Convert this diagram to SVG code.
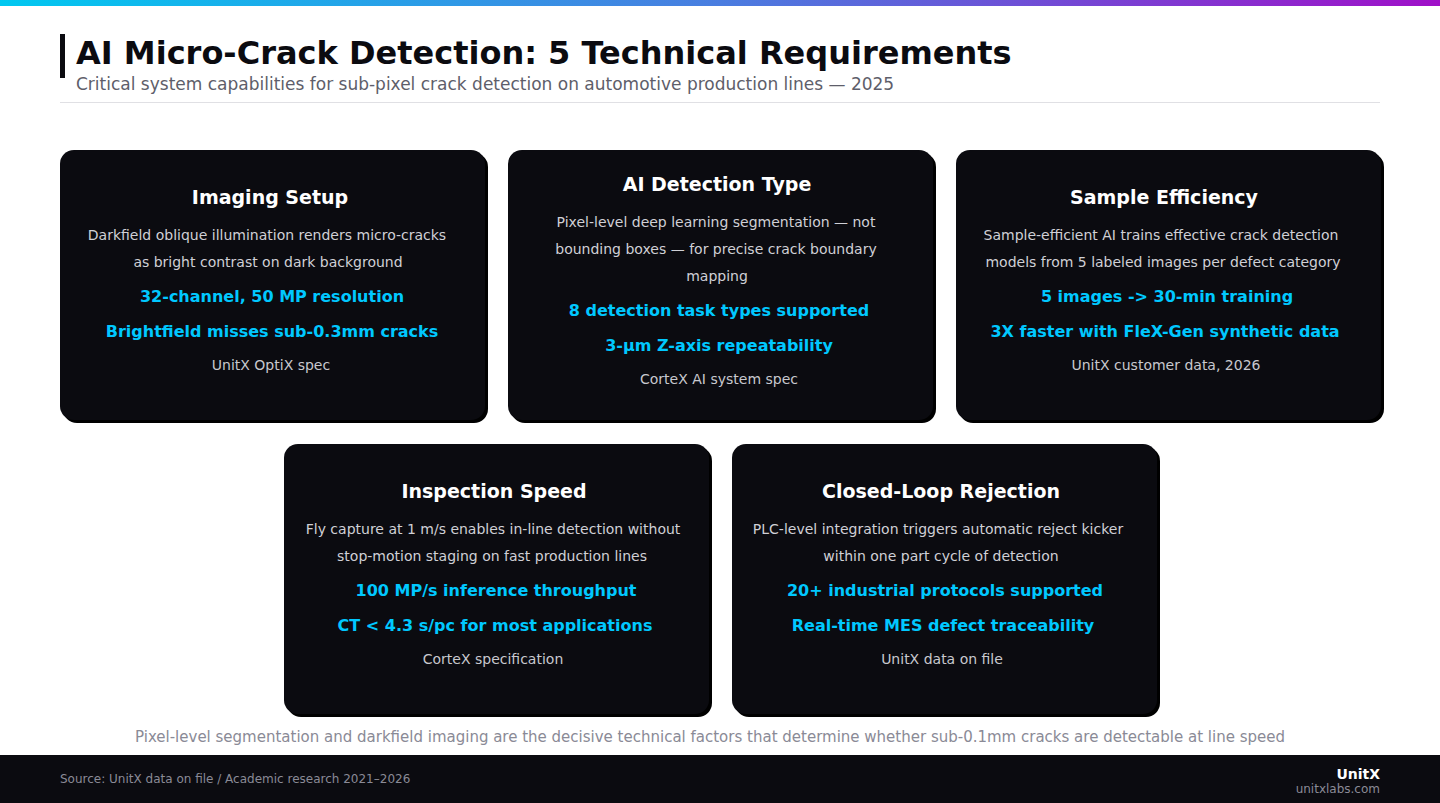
<svg xmlns="http://www.w3.org/2000/svg" width="1440" height="803" viewBox="0 0 1440 803">
<defs>
<linearGradient id="top" x1="0" x2="1" y1="0" y2="0"><stop offset="0" stop-color="#00c8f0"/><stop offset="0.5" stop-color="#4a7de0"/><stop offset="1" stop-color="#a010c8"/></linearGradient>
</defs>
<style>
text{font-family:"DejaVu Sans",sans-serif}
.card{fill:#0b0b10}
.sh{fill:#000}
.t{fill:#fff;font-size:19px;font-weight:bold;text-anchor:middle}
.b{fill:#d0d0d6;font-size:14px;text-anchor:middle}
.h{fill:#00c8ff;font-size:16px;font-weight:bold;text-anchor:middle}
.s{fill:#c8c8ce;font-size:14px;text-anchor:middle}
</style>
<rect width="1440" height="803" fill="#fff"/>
<rect width="1440" height="6" fill="url(#top)"/>
<rect x="60" y="34" width="5" height="44" fill="#0b0b10"/>
<text x="76" y="64" font-size="32" font-weight="bold" fill="#0b0b10">AI Micro-Crack Detection: 5 Technical Requirements</text>
<text x="76" y="90" font-size="17" fill="#5e5e6a">Critical system capabilities for sub-pixel crack detection on automotive production lines — 2025</text>
<rect x="60" y="102" width="1320" height="1" fill="#e0e0e4"/>
<g id="connectors"/>
<g id="card1">
<rect class="sh" x="63" y="153" width="425" height="270" rx="14"/>
<rect class="card" x="60" y="150" width="425" height="270" rx="14"/>
<text class="t" x="270" y="204">Imaging Setup</text>
<text class="b" x="267" y="240">Darkfield oblique illumination renders micro-cracks</text>
<text class="b" x="268" y="267">as bright contrast on dark background</text>
<text class="h" x="272" y="302">32-channel, 50 MP resolution</text>
<text class="h" x="272" y="337">Brightfield misses sub-0.3mm cracks</text>
<text class="s" x="271" y="370">UnitX OptiX spec</text>
</g>
<g id="card2">
<rect class="sh" x="511" y="153" width="425" height="270" rx="14"/>
<rect class="card" x="508" y="150" width="425" height="270" rx="14"/>
<text class="t" x="717" y="191">AI Detection Type</text>
<text class="b" x="716" y="227">Pixel-level deep learning segmentation — not</text>
<text class="b" x="716" y="254">bounding boxes — for precise crack boundary</text>
<text class="b" x="717" y="281">mapping</text>
<text class="h" x="719" y="316">8 detection task types supported</text>
<text class="h" x="719" y="351">3-μm Z-axis repeatability</text>
<text class="s" x="719" y="384">CorteX AI system spec</text>
</g>
<g id="card3">
<rect class="sh" x="959" y="153" width="425" height="270" rx="14"/>
<rect class="card" x="956" y="150" width="425" height="270" rx="14"/>
<text class="t" x="1164" y="204">Sample Efficiency</text>
<text class="b" x="1161" y="240">Sample-efficient AI trains effective crack detection</text>
<text class="b" x="1163" y="267">models from 5 labeled images per defect category</text>
<text class="h" x="1167" y="302">5 images -&gt; 30-min training</text>
<text class="h" x="1165" y="337">3X faster with FleX-Gen synthetic data</text>
<text class="s" x="1166" y="370">UnitX customer data, 2026</text>
</g>
<g id="card4">
<rect class="sh" x="287" y="447" width="425" height="270" rx="14"/>
<rect class="card" x="284" y="444" width="425" height="270" rx="14"/>
<text class="t" x="494" y="498">Inspection Speed</text>
<text class="b" x="493" y="534">Fly capture at 1 m/s enables in-line detection without</text>
<text class="b" x="492" y="561">stop-motion staging on fast production lines</text>
<text class="h" x="496" y="596">100 MP/s inference throughput</text>
<text class="h" x="495" y="631">CT &lt; 4.3 s/pc for most applications</text>
<text class="s" x="493" y="664">CorteX specification</text>
</g>
<g id="card5">
<rect class="sh" x="735" y="447" width="425" height="270" rx="14"/>
<rect class="card" x="732" y="444" width="425" height="270" rx="14"/>
<text class="t" x="941" y="498">Closed-Loop Rejection</text>
<text class="b" x="938" y="534">PLC-level integration triggers automatic reject kicker</text>
<text class="b" x="941" y="561">within one part cycle of detection</text>
<text class="h" x="945" y="596">20+ industrial protocols supported</text>
<text class="h" x="943" y="631">Real-time MES defect traceability</text>
<text class="s" x="942" y="664">UnitX data on file</text>
</g>
<text x="710" y="742" font-size="15" fill="#8a8a96" text-anchor="middle">Pixel-level segmentation and darkfield imaging are the decisive technical factors that determine whether sub-0.1mm cracks are detectable at line speed</text>
<rect x="0" y="755" width="1440" height="48" fill="#0b0b10"/>
<text x="60" y="783" font-size="12" fill="#8a8a96">Source: UnitX data on file / Academic research 2021–2026</text>
<text x="1380" y="779" font-size="14" font-weight="bold" fill="#fff" text-anchor="end">UnitX</text>
<text x="1380" y="793" font-size="12" fill="#8a8a96" text-anchor="end">unitxlabs.com</text>
</svg>
